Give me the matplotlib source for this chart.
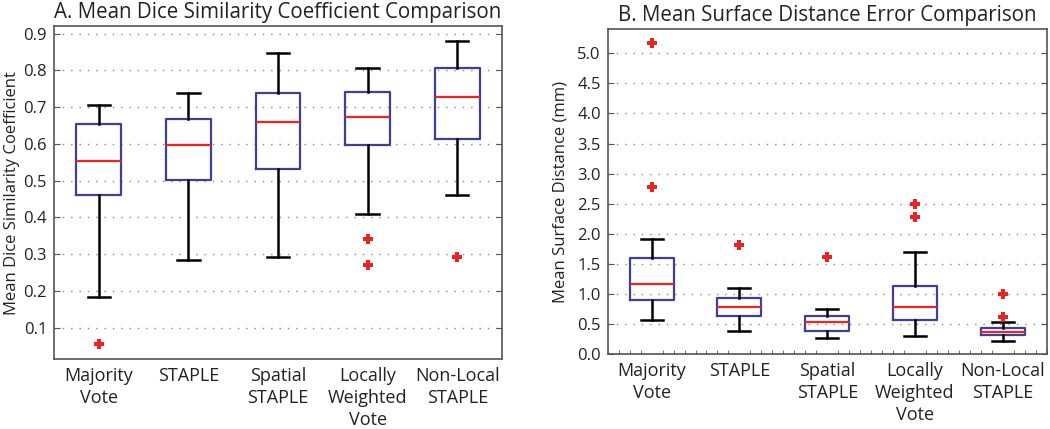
import matplotlib.pyplot as plt
from matplotlib.ticker import MultipleLocator

plt.rcParams['font.family'] = ['Open Sans', 'DejaVu Sans']

methods = ["Majority\nVote", "STAPLE", "Spatial\nSTAPLE", "Locally\nWeighted\nVote", "Non-Local\nSTAPLE"]

# A. Dice similarity (whisker low, Q1, median, Q3, whisker high, outliers)
dice_low = [0.185, 0.283, 0.293, 0.410, 0.461]
dice_q1 = [0.460, 0.503, 0.533, 0.597, 0.614]
dice_med = [0.553, 0.598, 0.660, 0.673, 0.727]
dice_q3 = [0.653, 0.668, 0.737, 0.742, 0.806]
dice_high = [0.707, 0.737, 0.846, 0.805, 0.879]
dice_out = [[0.055], [], [], [0.342, 0.270], [0.293]]

# B. Mean surface distance (mm)
msd_low = [0.56, 0.38, 0.26, 0.30, 0.21]
msd_q1 = [0.90, 0.63, 0.39, 0.57, 0.31]
msd_med = [1.17, 0.78, 0.53, 0.79, 0.36]
msd_q3 = [1.60, 0.93, 0.64, 1.13, 0.43]
msd_high = [1.91, 1.10, 0.75, 1.69, 0.54]
msd_out = [[5.17, 2.78], [1.82], [1.61], [2.49, 2.27], [1.00, 0.61]]


def make_stats(low, q1, med, q3, high, out):
    stats = []
    for i in range(len(med)):
        stats.append(dict(whislo=low[i], q1=q1[i], med=med[i], q3=q3[i],
                          whishi=high[i], fliers=out[i]))
    return stats


def draw(ax, stats, title, ylabel):
    ax.bxp(stats, positions=range(1, 6), widths=0.5, showfliers=True,
           boxprops=dict(color='#3f3f98', linewidth=1.6),
           medianprops=dict(color='#f2231f', linewidth=1.6),
           whiskerprops=dict(color='black', linewidth=1.8, linestyle='-'),
           capprops=dict(color='black', linewidth=1.8),
           flierprops=dict(marker='P', markerfacecolor='#ee2222', markeredgecolor='#ee2222',
                           markersize=7, markeredgewidth=0, linestyle='none'))
    ax.set_xlim(0.5, 5.5)
    ax.set_xticks(range(1, 6))
    ax.set_xticklabels(methods, fontsize=13, color='#222222', linespacing=1.28)
    ax.tick_params(axis='x', length=0, pad=6)
    ax.tick_params(axis='y', direction='in', length=4, right=True, labelsize=12,
                   colors='#555555', labelcolor='#222222', pad=5)
    ax.yaxis.grid(True, linestyle=(0, (1, 5)), color='#888888', linewidth=1)
    ax.set_axisbelow(True)
    for sp in ax.spines.values():
        sp.set_color('#555555')
        sp.set_linewidth(1.2)
    ax.set_title(title, fontsize=14.8, color='#222222', pad=6)
    ax.set_ylabel(ylabel, fontsize=12, color='#222222')


fig = plt.figure(figsize=(10.5, 4.29), dpi=100)
ax1 = fig.add_axes([0.0514, 0.163, 0.4267, 0.776])
ax2 = fig.add_axes([0.5788, 0.1748, 0.418, 0.757])

draw(ax1, make_stats(dice_low, dice_q1, dice_med, dice_q3, dice_high, dice_out),
     "A. Mean Dice Similarity Coefficient Comparison", "Mean Dice Similarity Coefficient")
ax1.set_ylim(0.015, 0.92)
ax1.set_yticks([0.1, 0.2, 0.3, 0.4, 0.5, 0.6, 0.7, 0.8, 0.9])
ax1.set_yticklabels(["0.1", "0.2", "0.3", "0.4", "0.5", "0.6", "0.7", "0.8", "0.9"])
ax1.yaxis.set_label_coords(-0.075, 0.5)

draw(ax2, make_stats(msd_low, msd_q1, msd_med, msd_q3, msd_high, msd_out),
     "B. Mean Surface Distance Error Comparison", "Mean Surface Distance (mm)")
ax2.set_ylim(0, 5.4)
ax2.set_yticks([0.5 * k for k in range(11)])
ax2.set_yticklabels(["%.1f" % (0.5 * k) for k in range(11)])
ax2.xaxis.set_minor_locator(MultipleLocator(0.125))
ax2.tick_params(axis='x', which='minor', direction='in', length=3, color='#555555')
ax2.yaxis.set_label_coords(-0.09, 0.5)

fig.savefig("out.png", dpi=100)
